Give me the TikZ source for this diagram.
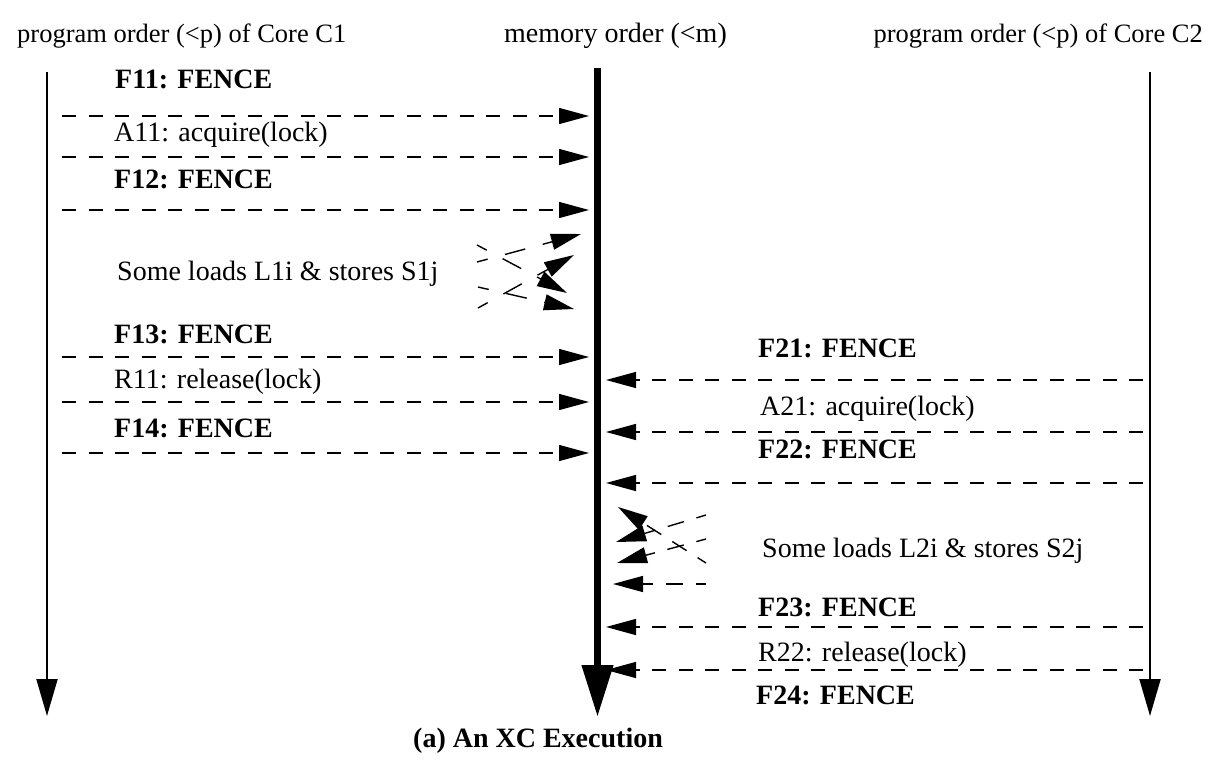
\documentclass[tikz,border=0pt]{standalone}
\usepackage{fontspec}
\setmainfont{Liberation Serif}
\usetikzlibrary{arrows.meta}
\begin{document}
\begin{tikzpicture}[x=1pt,y=-1pt,
  lbl/.style={anchor=base west, inner sep=0pt, font=\fontsize{28}{32}\selectfont},
  hdr/.style={inner sep=0pt, font=\fontsize{26.5}{30}\selectfont},
  blbl/.style={anchor=base west, inner sep=0pt, font=\fontsize{28}{32}\selectfont\bfseries},
  msg/.style={line width=1.4pt, dash pattern=on 14pt off 12.5pt, -{Triangle[length=30pt,width=16pt]}},
  xmsgA/.style={line width=1.4pt, dash pattern=on 21pt off 18pt, dash phase=10pt, -{Triangle[length=30pt,width=16pt]}},
  xmsgB/.style={line width=1.4pt, dash pattern=on 17pt off 13pt, dash phase=7pt, -{Triangle[length=30pt,width=16pt]}},
  core/.style={line width=2pt, -{Triangle[length=37pt,width=21pt]}},
  mem/.style={line width=7.5pt, -{Triangle[length=52pt,width=30pt]}}
]
\useasboundingbox (0,0) rectangle (1225,773);
% headers
\node[hdr, anchor=base west] (h1) at (17,43) {program order (<p) of Core C1};
\node[lbl] (hm) at (504,43) {memory order (<m)};
\node[hdr, anchor=base east] (h2) at (1203,43) {program order (<p) of Core C2};
% timelines
\coordinate (c1top) at (47,72);
\coordinate (c1bot) at (47,716);
\coordinate (mtop) at (597.5,68);
\coordinate (mbot) at (597.5,717);
\coordinate (c2top) at (1150,72);
\coordinate (c2bot) at (1150,716);
\draw[core] (c1top) -- (c1bot);
\draw[core] (c2top) -- (c2bot);
\draw[mem] (mtop) -- (mbot);
% core C1 labels
\node[blbl] (f11) at (115,89) {F11: FENCE};
\node[lbl]  (a11) at (114,142) {A11: acquire(lock)};
\node[blbl] (f12) at (114,188) {F12: FENCE};
\node[lbl]  (s1)  at (117,280) {Some loads L1i \& stores S1j};
\node[blbl] (f13) at (114,343) {F13: FENCE};
\node[lbl]  (r11) at (114,388) {R11: release(lock)};
\node[blbl] (f14) at (114,437) {F14: FENCE};
% core C1 arrows
\foreach \n/\y in {1/116,2/157,3/210,4/357,5/402,6/453}{
  \coordinate (l\n) at (62,\y);
  \coordinate (m\n) at (589,\y);
}
\foreach \n in {1,...,6}{ \draw[msg] (l\n) -- (m\n); }
% crossing C1
\coordinate (xa1) at (477,262); \coordinate (xa2) at (581,234);
\coordinate (xb1) at (477,245); \coordinate (xb2) at (567,293);
\coordinate (xc1) at (478,308); \coordinate (xc2) at (574,255);
\coordinate (xd1) at (478,287); \coordinate (xd2) at (574,309);
\draw[xmsgA] (xa1) -- (xa2);
\draw[xmsgA] (xb1) -- (xb2);
\draw[xmsgA] (xc1) -- (xc2);
\draw[xmsgA] (xd1) -- (xd2);
% core C2 labels
\node[blbl] (f21) at (758,357) {F21: FENCE};
\node[lbl]  (a21) at (760,415) {A21: acquire(lock)};
\node[blbl] (f22) at (758,458) {F22: FENCE};
\node[lbl]  (s2)  at (762,557) {Some loads L2i \& stores S2j};
\node[blbl] (f23) at (758,616) {F23: FENCE};
\node[lbl]  (r22) at (758,661) {R22: release(lock)};
\node[blbl] (f24) at (756,704) {F24: FENCE};
% core C2 arrows
\foreach \n/\y in {1/380,2/432,3/483,4/627,5/670}{
  \coordinate (r\n) at (1143,\y);
  \coordinate (n\n) at (606,\y);
}
\foreach \n in {1,...,5}{ \draw[msg] (r\n) -- (n\n); }
% crossing C2
\coordinate (xe1) at (706,515); \coordinate (xe2) at (616,542);
\coordinate (xf1) at (706,539); \coordinate (xf2) at (617,563);
\coordinate (xg1) at (706,563); \coordinate (xg2) at (618,507);
\coordinate (xh1) at (706,584); \coordinate (xh2) at (613,584);
\draw[xmsgB] (xe1) -- (xe2);
\draw[xmsgB] (xf1) -- (xf2);
\draw[xmsgB] (xg1) -- (xg2);
\draw[xmsgB] (xh1) -- (xh2);
% caption
\node[blbl] (cap) at (413,747) {(a) An XC Execution};
\end{tikzpicture}
\end{document}
